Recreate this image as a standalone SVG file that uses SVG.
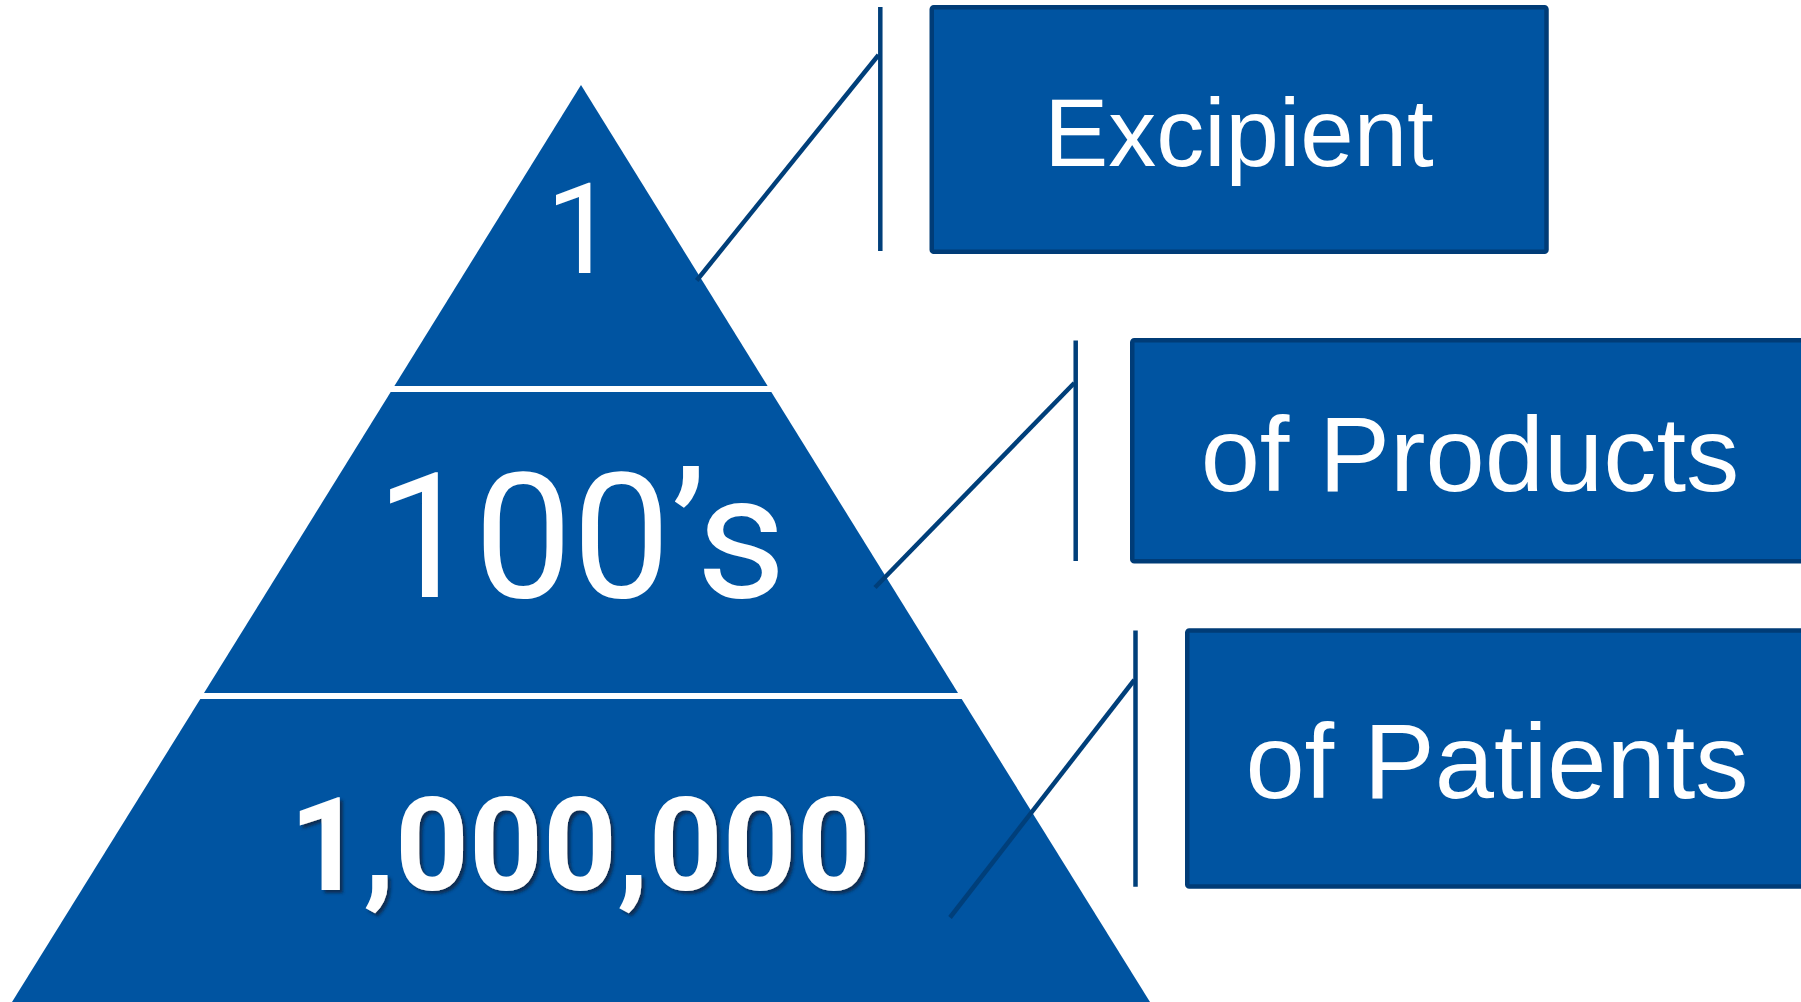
<svg xmlns="http://www.w3.org/2000/svg" width="1801" height="1002" viewBox="0 0 1801 1002">
  <style>
    .tier { fill: #0054A1; }
    .box { fill: #0054A1; stroke: #003C77; stroke-width: 4.5; }
    .conn { stroke: #003F7A; stroke-width: 4.5; fill: none; stroke-linecap: butt; }
    .t { font-family: "Liberation Sans", Arial, sans-serif; fill: #FFFFFF; text-anchor: middle; }
    .num { font-family: Roboto, "Liberation Sans", Arial, sans-serif; fill: #FFFFFF; text-anchor: middle; }
  </style>
  <defs>
    <filter id="shadow" x="-10%" y="-20%" width="120%" height="140%">
      <feDropShadow dx="3" dy="3" stdDeviation="1.5" flood-color="#102A4C" flood-opacity="0.9"/>
    </filter>
  </defs>
  <rect width="1801" height="1002" fill="#FFFFFF"/>

  <g id="tier-top">
    <polygon class="tier" points="581,85 767.6,386 394.4,386"/>
    <text class="num" x="581" y="273" font-size="126">1</text>
  </g>
  <g id="tier-middle">
    <polygon class="tier" points="390.7,392 771.3,392 958,693 204,693"/>
    <text class="num" x="581" y="596.7" font-size="175">100’s</text>
  </g>
  <g id="tier-bottom">
    <polygon class="tier" points="200.3,699 961.7,699 1150,1002 12,1002"/>
    <text class="num" x="580" y="890" font-size="129" font-weight="bold" filter="url(#shadow)">1,000,000</text>
  </g>

  <g id="box-excipient">
    <rect class="box" x="931.75" y="7.25" width="614.75" height="244.5" rx="2"/>
    <text class="t" x="1239" y="165.5" font-size="96">Excipient</text>
  </g>
  <g id="box-products">
    <rect class="box" x="1132.25" y="340.25" width="700" height="221" rx="2"/>
    <text class="t" x="1470" y="491" font-size="106.5">of Products</text>
  </g>
  <g id="box-patients">
    <rect class="box" x="1187.25" y="630.5" width="700" height="256" rx="2"/>
    <text class="t" x="1497" y="798.3" font-size="106.5">of Patients</text>
  </g>

  <g id="connectors">
    <line class="conn" x1="880.3" y1="7" x2="880.3" y2="251"/>
    <line class="conn" x1="878.5" y1="55" x2="696.7" y2="280.5"/>
    <line class="conn" x1="1075.7" y1="340.5" x2="1075.7" y2="561"/>
    <line class="conn" x1="1074.3" y1="383" x2="875" y2="587.5"/>
    <line class="conn" x1="1135.5" y1="630.5" x2="1135.5" y2="886.7"/>
    <line class="conn" x1="1134.3" y1="680" x2="950" y2="917.5"/>
  </g>
</svg>
